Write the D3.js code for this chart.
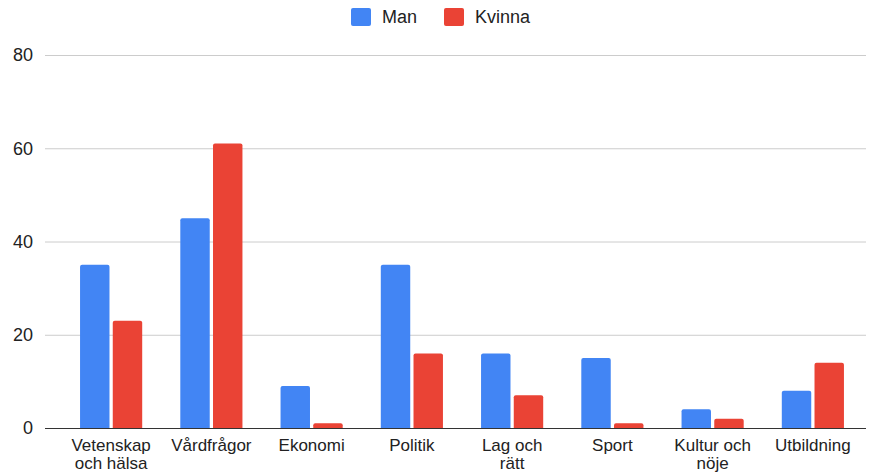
<!DOCTYPE html>
<html><head><meta charset="utf-8">
<script src="https://cdn.jsdelivr.net/npm/d3@7"></script>
<style>body{margin:0;background:#fff}svg{display:block;font-family:"Liberation Sans",Arial,sans-serif}</style>
</head><body><svg id="c" width="870" height="474"></svg>
<script>
const categories = ["Vetenskap och hälsa","Vårdfrågor","Ekonomi","Politik","Lag och rätt","Sport","Kultur och nöje","Utbildning"];
const tickLabels = [["Vetenskap","och hälsa"],["Vårdfrågor"],["Ekonomi"],["Politik"],["Lag och","rätt"],["Sport"],["Kultur och","nöje"],["Utbildning"]];
const seriesNames = ["Man","Kvinna"];
const man = [35,45,9,35,16,15,4,8];
const kvinna = [23,61,1,16,7,1,2,14];
const yTicks = [0,20,40,60,80];
const colors = ["#4285F4","#EA4335"];

const svg = d3.select("#c");
const x = d3.scaleBand().domain(categories).range([61,863]).paddingInner(0.38).paddingOuter(0.19);
const xs = d3.scaleBand().domain(seriesNames).range([0,x.bandwidth()]).paddingInner(0.1);
const y = d3.scaleLinear().domain([0,80]).range([428,55]);

// gridlines
svg.append("g").selectAll("line").data(yTicks.filter(d=>d>0)).join("line")
  .attr("x1",45).attr("x2",866).attr("y1",d=>y(d)+0.5).attr("y2",d=>y(d)+0.5)
  .attr("stroke","#cccccc").attr("stroke-width",1);

// y labels
svg.append("g").selectAll("text").data(yTicks).join("text")
  .attr("x",33).attr("y",d=>y(d)).attr("dy","0.35em").attr("text-anchor","end")
  .attr("font-size",18).attr("fill","#222").text(d=>d);

// bars
const data = [];
categories.forEach((c,i)=>{ data.push({c,s:"Man",v:man[i]}); data.push({c,s:"Kvinna",v:kvinna[i]}); });
function barPath(x0,w,yt,yb){
  const r=Math.min(2,w/2,(yb-yt)/2);
  return `M${x0},${yb}V${yt+r}Q${x0},${yt} ${x0+r},${yt}H${x0+w-r}Q${x0+w},${yt} ${x0+w},${yt+r}V${yb}Z`;
}
svg.append("g").selectAll("path").data(data).join("path")
  .attr("d",d=>barPath(x(d.c)+xs(d.s), xs.bandwidth(), y(d.v), y(0)))
  .attr("fill",d=>colors[seriesNames.indexOf(d.s)]);

// baseline
svg.append("line").attr("x1",45).attr("x2",866).attr("y1",y(0)+0.5).attr("y2",y(0)+0.5)
  .attr("stroke","#333").attr("stroke-width",1.2);

// x labels
const xl = svg.append("g").selectAll("text").data(categories).join("text")
  .attr("x",d=>x(d)+x.bandwidth()/2).attr("y",451).attr("text-anchor","middle")
  .attr("font-size",17).attr("fill","#222");
xl.each(function(d,i){
  const t=d3.select(this);
  tickLabels[i].forEach((ln,j)=>t.append("tspan").attr("x",x(d)+x.bandwidth()/2).attr("dy",j?18:0).text(ln));
});

// legend
const lg = svg.append("g");
const legendX = [351,444];
seriesNames.forEach((s,i)=>{
  lg.append("rect").attr("x",legendX[i]).attr("y",8).attr("width",20).attr("height",18).attr("rx",2).attr("fill",colors[i]);
  lg.append("text").attr("x",legendX[i]+31).attr("y",17).attr("dy","0.35em").attr("font-size",18).attr("fill","#222").text(s);
});
</script></body></html>
